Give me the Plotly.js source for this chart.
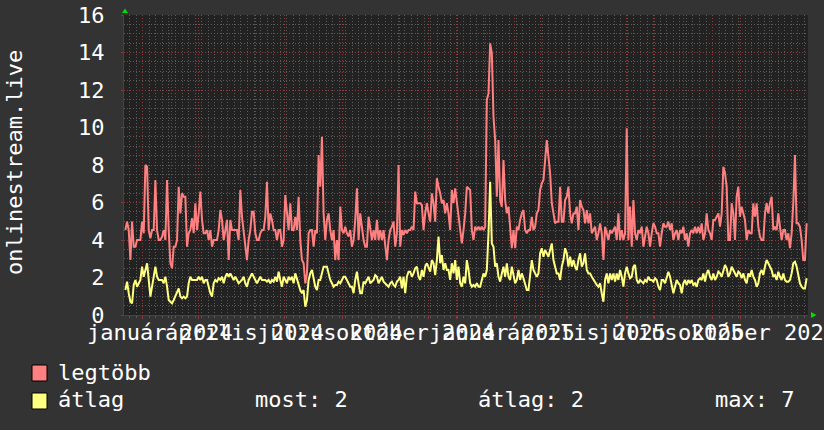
<!DOCTYPE html>
<html>
<head>
<meta charset="utf-8">
<script src="https://cdn.plot.ly/plotly-3.0.1.min.js"></script>
<style>
  html, body { margin: 0; padding: 0; background: #333333; }
  #chart { width: 824px; height: 430px; }
</style>
</head>
<body>
<div id="chart"></div>
<script>
// ---- data ----
const seriesStart = '2023-12-13T12:00:00Z';   // first sample
const sampleStepDays = 1.78;                   // spacing between samples

const maxValues = [ // "legtöbb"
  4.53,4.98,4.53,2.93,4.98,3.64,3.64,4.0,4.0,4.0,
  4.98,4.36,8.0,7.91,4.53,4.09,4.53,4.53,7.2,4.53,
  4.0,4.0,4.18,4.53,4.0,7.2,4.53,2.76,2.49,3.64,
  3.64,4.0,6.84,5.42,6.49,6.31,6.31,3.64,4.36,4.53,
  5.16,4.36,5.96,4.53,5.42,6.58,5.07,4.36,4.36,4.53,
  4.0,4.53,3.64,4.0,4.0,4.0,4.53,5.6,5.07,4.0,
  4.53,5.07,2.93,5.07,4.53,4.53,4.53,4.53,4.0,6.67,
  5.24,4.53,3.64,2.93,4.0,4.53,5.51,5.51,4.36,4.0,
  4.0,4.36,4.53,4.53,5.24,7.11,4.53,5.42,5.07,4.53,
  4.53,4.0,4.53,4.53,3.64,4.0,6.4,5.6,4.53,5.96,
  4.53,4.53,5.24,4.53,6.31,4.0,2.93,2.76,1.69,2.22,
  4.36,4.53,4.53,3.64,4.53,4.36,8.53,6.84,9.51,5.42,
  4.0,5.07,5.42,4.53,4.0,4.53,2.93,4.0,2.93,5.78,
  4.53,4.36,4.71,4.36,4.18,4.53,3.64,4.0,5.07,6.76,
  4.0,5.42,4.71,4.0,3.64,3.64,5.24,4.53,4.0,4.53,
  4.0,5.07,4.0,4.53,4.0,4.53,3.64,2.93,4.0,4.53,
  4.71,4.98,3.64,4.36,8.0,3.64,4.53,4.27,4.53,4.36,
  4.53,4.53,4.71,4.53,6.58,5.96,5.96,5.96,5.87,4.53,
  5.42,5.96,5.42,4.98,6.49,5.96,4.98,7.29,6.84,6.49,
  5.96,6.13,5.42,5.96,5.42,4.53,6.67,5.96,6.76,5.96,
  5.42,4.36,3.82,4.53,5.42,6.84,6.76,
  6.67,4.53,4.0,4.71,4.53,4.71,4.53,4.71,4.53,4.71,
  11.47,11.82,14.49,13.96,10.58,9.33,6.31,9.33,6.13,5.78,
  8.27,6.13,5.42,5.78,4.36,3.56,4.53,3.56,4.71,4.53,
  5.07,5.42,5.6,4.53,4.36,4.53,4.53,5.24,4.53,4.71,
  5.42,5.6,6.67,7.02,7.2,8.27,9.33,8.44,7.56,5.96,
  5.42,4.89,4.98,4.98,6.84,4.98,4.98,6.13,6.31,6.84,
  5.42,4.89,5.42,5.42,5.78,4.53,6.13,5.78,5.6,4.89,
  5.6,4.89,5.42,4.36,4.53,4.71,4.0,4.36,4.89,4.36,
  2.93,4.71,4.36,4.0,4.53,4.36,4.53,4.71,4.0,5.42,
  4.0,4.53,4.0,4.36,9.96,4.0,5.78,3.64,6.13,4.36,
  4.0,4.53,4.36,4.71,3.64,4.18,4.71,4.36,3.64,4.36,
  4.89,4.71,4.36,4.36,3.64,4.36,4.89,4.71,4.71,4.98,
  4.53,4.89,4.0,4.36,4.53,4.0,4.53,4.36,4.71,4.0,
  4.36,3.64,4.36,4.53,4.36,4.71,4.36,4.71,4.36,4.89,
  4.0,4.36,5.42,4.53,4.36,4.0,5.07,5.07,5.24,5.42,
  4.71,5.42,7.91,7.56,6.84,4.0,4.0,5.96,5.42,4.0,
  6.31,6.84,5.24,5.78,5.42,5.07,4.0,4.53,4.36,4.36,
  5.96,5.24,5.96,4.71,4.18,4.0,4.0,5.42,5.96,5.42,
  5.96,6.31,4.53,4.71,4.53,5.42,4.71,4.0,4.53,4.53,
  4.0,4.36,3.56,4.36,5.96,8.53,4.89,4.89,4.71,4.0,
  2.93,2.93,4.89
];

const avgValues = [ // "átlag"
  1.33,1.78,1.16,0.71,0.62,1.6,1.87,1.51,1.69,1.87,
  2.58,2.04,2.4,2.76,1.87,0.98,1.51,2.04,2.58,2.04,
  1.87,1.87,1.87,1.69,2.04,1.51,0.8,0.71,0.62,0.8,
  0.98,1.16,1.42,0.98,0.89,0.98,0.89,0.98,1.69,2.04,
  1.87,1.87,1.87,1.87,2.04,1.87,2.04,1.69,1.87,1.87,
  1.51,1.16,0.98,1.69,1.87,1.78,1.96,1.87,2.04,1.69,
  2.04,2.22,2.04,2.22,2.04,1.87,2.04,1.87,1.69,1.78,
  1.87,2.04,1.69,1.51,1.87,2.04,2.22,2.04,1.87,1.69,
  1.87,2.04,1.87,1.87,1.87,1.78,1.87,1.69,1.87,1.78,
  2.04,1.78,2.31,1.87,1.51,2.04,1.87,1.69,2.04,1.87,
  2.04,1.69,2.22,1.87,1.6,1.33,1.16,1.33,0.44,0.8,
  1.87,2.22,2.4,1.87,1.51,1.33,1.87,1.87,2.31,2.58,
  2.58,2.58,2.22,1.87,1.69,1.51,1.6,1.6,1.78,1.69,
  1.87,2.04,2.04,1.87,1.69,1.51,1.51,1.16,1.87,2.31,
  1.69,1.16,1.16,1.78,1.69,1.87,2.04,1.69,1.78,1.87,
  2.13,2.04,1.69,1.87,2.04,1.78,1.69,1.6,1.51,1.69,
  1.78,1.6,1.51,1.78,1.87,2.04,1.42,2.04,1.16,2.04,
  2.31,2.31,2.04,2.22,2.49,2.58,2.04,1.87,2.4,2.04,
  2.58,2.76,2.58,2.31,2.93,2.76,2.13,2.93,4.18,2.76,
  3.2,2.4,2.76,2.4,2.4,1.87,2.76,2.22,2.93,1.87,
  2.58,1.69,1.51,2.04,1.69,2.93,2.4,
  1.69,1.51,1.6,1.51,1.69,1.51,1.51,1.87,2.22,2.04,
  2.4,4.36,7.11,3.82,3.64,2.58,2.76,2.04,1.78,2.22,
  2.58,2.04,2.76,2.04,1.87,2.58,2.04,1.69,1.87,2.4,
  1.87,2.22,1.96,1.69,1.33,1.33,2.22,2.93,2.4,2.22,
  2.04,2.22,3.29,3.56,3.11,3.47,3.29,3.11,3.47,3.82,
  2.93,2.58,2.22,2.22,1.87,2.58,2.93,3.56,3.29,2.58,
  3.11,2.58,2.93,2.58,2.4,2.93,3.29,2.58,2.76,3.29,
  2.4,2.22,2.22,2.04,1.87,1.78,1.6,1.51,1.69,1.16,
  0.71,1.87,2.22,1.69,2.22,1.87,2.22,1.78,2.22,1.87,
  2.4,2.04,1.51,2.22,2.58,2.22,1.96,2.04,2.58,2.67,
  1.87,1.69,1.87,1.78,1.69,1.87,1.78,2.04,1.87,1.87,
  1.78,1.96,1.87,1.51,1.33,1.87,1.87,1.69,2.04,2.31,
  2.04,1.51,1.16,1.51,1.87,1.69,1.6,1.16,1.69,1.87,
  1.6,1.87,1.69,1.87,1.6,1.69,1.51,1.87,1.96,1.87,
  2.22,1.78,2.22,2.4,2.04,1.87,2.22,1.87,2.04,2.31,
  2.22,2.04,2.4,2.67,2.49,2.04,2.22,2.58,2.4,2.22,
  2.04,2.31,2.22,1.96,2.22,1.87,1.69,2.22,2.04,2.4,
  2.04,1.87,1.51,1.69,2.22,2.4,2.13,2.58,2.93,2.76,
  2.58,2.4,2.04,2.13,1.87,2.31,2.04,1.87,2.22,1.87,
  1.78,1.78,1.87,2.22,2.76,2.84,2.58,2.04,1.69,1.51,
  1.42,1.42,1.96
];

const seriesNames = ['legtöbb', 'átlag'];
const tickLabels = ['január 2024','április 2024','július 2024','október 2024',
                    'január 2025','április 2025','július 2025','október 2025'];
const tickDates  = ['2024-01-19','2024-04-19','2024-07-19','2024-10-19',
                    '2025-01-19','2025-04-19','2025-07-19','2025-10-19'];
const statLabels = ['most: 2', 'átlag: 2', 'max: 7'];
const yTitle = 'onlinestream.live';

// ---- build ----
const t0 = Date.parse(seriesStart);
const stepMs = sampleStepDays * 86400000;
const dates = maxValues.map((_, i) =>
  new Date(t0 + i * stepMs).toISOString().slice(0, 19).replace('T', ' '));

const RED = '#ff8080', YEL = '#ffff80';
const FONT = 'DejaVu Sans Mono, monospace';
const L = 124, R = 16, T = 15, B = 115, W = 824, H = 430;
const PW = W - L - R, PH = H - T - B;
const px = x => (x - L) / PW;          // pixel -> paper x
const py = y => (H - B - y) / PH;      // pixel -> paper y

const traces = [
  { x: dates, y: maxValues, name: seriesNames[0], type: 'scatter', mode: 'lines',
    line: { color: RED, width: 2 }, hoverinfo: 'skip' },
  { x: dates, y: avgValues, name: seriesNames[1], type: 'scatter', mode: 'lines',
    line: { color: YEL, width: 2 }, hoverinfo: 'skip' }
];

const annotations = [];
tickLabels.forEach((t, i) => annotations.push({
  text: t, x: tickDates[i], xref: 'x', y: py(332), yref: 'paper',
  xanchor: 'center', yanchor: 'middle', showarrow: false, borderpad: 0,
  font: { family: FONT, size: 22, color: '#ffffff' }
}));
annotations.push({
  text: yTitle, textangle: -90, x: px(14), xref: 'paper', y: py(163), yref: 'paper',
  xanchor: 'center', yanchor: 'middle', showarrow: false, borderpad: 0,
  font: { family: FONT, size: 22, color: '#ffffff' }
});
const legRows = [372, 400];
seriesNames.forEach((n, i) => annotations.push({
  text: n, x: px(57), xref: 'paper', y: py(legRows[i]), yref: 'paper',
  xanchor: 'left', yanchor: 'middle', showarrow: false, borderpad: 0,
  font: { family: FONT, size: 22, color: '#ffffff' }
}));
const statX = [254, 477, 714];
statLabels.forEach((s, i) => annotations.push({
  text: s, x: px(statX[i]), xref: 'paper', y: py(400), yref: 'paper',
  xanchor: 'left', yanchor: 'middle', showarrow: false, borderpad: 0,
  font: { family: FONT, size: 22, color: '#ffffff' }
}));

const shapes = [
  { type: 'rect', xref: 'paper', yref: 'paper', x0: px(32), x1: px(47), y0: py(381), y1: py(365),
    fillcolor: RED, line: { color: '#000000', width: 1 } },
  { type: 'rect', xref: 'paper', yref: 'paper', x0: px(32), x1: px(47), y0: py(409), y1: py(393),
    fillcolor: YEL, line: { color: '#000000', width: 1 } },
  { type: 'path', xref: 'paper', yref: 'paper', xsizemode: 'pixel', ysizemode: 'pixel',
    xanchor: 0, yanchor: 1, path: 'M-2,2 L4,2 L1,6.5 Z',
    fillcolor: '#00e000', line: { width: 0 } },
  { type: 'path', xref: 'paper', yref: 'paper', xsizemode: 'pixel', ysizemode: 'pixel',
    xanchor: 1, yanchor: 0, path: 'M3,3 L3,-3 L8.5,0 Z',
    fillcolor: '#00e000', line: { width: 0 } }
];

const layout = {
  width: W, height: H,
  margin: { l: L, r: R, t: T, b: B, pad: 0 },
  paper_bgcolor: '#333333', plot_bgcolor: '#222222',
  showlegend: false,
  font: { family: FONT, color: '#ffffff', size: 22 },
  xaxis: {
    type: 'date', range: ['2023-12-12 00:00', '2025-12-12 00:00'],
    tick0: '2024-01-01', dtick: 'M1',
    showgrid: true, gridcolor: '#8a3a3a', griddash: '1px,2px', gridwidth: 1,
    showticklabels: false, ticks: 'outside', ticklen: 3, tickcolor: '#8a3a3a',
    minor: { tick0: '2024-01-01', dtick: 7 * 86400000, showgrid: true,
             gridcolor: '#5a5a5a', griddash: '1px,2px', ticks: 'outside', ticklen: 2, tickcolor: '#5a5a5a' },
    zeroline: false, showline: true, linecolor: '#444444', linewidth: 1, fixedrange: true
  },
  yaxis: {
    range: [0, 16], tick0: 0, dtick: 2,
    showgrid: true, gridcolor: '#8a3a3a', griddash: '1px,2px', gridwidth: 1,
    tickfont: { family: FONT, size: 22, color: '#ffffff' },
    ticks: 'outside', ticklen: 2, tickcolor: '#8a3a3a', ticklabelstandoff: 12,
    minor: { dtick: 0.5, showgrid: true, gridcolor: '#5a5a5a', griddash: '1px,2px' },
    zeroline: false, showline: true, linecolor: '#444444', linewidth: 1, fixedrange: true
  },
  annotations: annotations,
  shapes: shapes
};

Plotly.newPlot('chart', traces, layout, { staticPlot: true, displayModeBar: false });
</script>
</body>
</html>
